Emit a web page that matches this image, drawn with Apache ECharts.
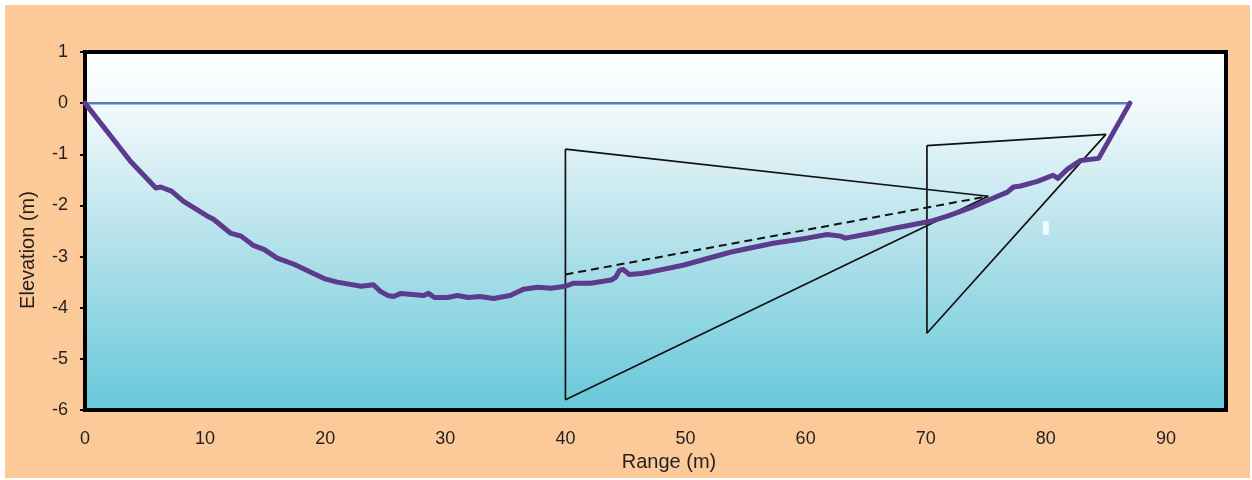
<!DOCTYPE html>
<html>
<head>
<meta charset="utf-8">
<style>
  html, body { margin: 0; padding: 0; background: #ffffff; }
  #chart { position: absolute; left: 5px; top: 5px; width: 1245px; height: 473px; }
</style>
<script src="https://cdn.jsdelivr.net/npm/echarts@6/dist/echarts.min.js"></script>
</head>
<body>
<div id="chart"></div>
<script>
// measured bottom profile (range m, elevation m)
const PROFILE = [
  [0, 0], [3.8, -1.14], [5.9, -1.66], [6.3, -1.64], [7.2, -1.72], [8.2, -1.92],
  [10.2, -2.21], [10.7, -2.27], [12.1, -2.54], [13.0, -2.6], [14.0, -2.78],
  [14.9, -2.86], [16.0, -3.03], [17.4, -3.15], [19.9, -3.43], [21.0, -3.5],
  [23.0, -3.58], [24.0, -3.55], [24.6, -3.68], [25.2, -3.76], [25.7, -3.78],
  [26.3, -3.72], [28.2, -3.76], [28.6, -3.72], [29.1, -3.8], [30.2, -3.8],
  [31.0, -3.76], [31.9, -3.8], [32.9, -3.78], [34.0, -3.82], [35.4, -3.76],
  [36.5, -3.64], [37.7, -3.6], [38.8, -3.62], [40.0, -3.58], [40.7, -3.52],
  [42.1, -3.52], [43.8, -3.46], [44.2, -3.4], [44.5, -3.27], [44.8, -3.25],
  [45.3, -3.35], [46.3, -3.33], [47.1, -3.3], [49.8, -3.17], [53.2, -2.95],
  [54.0, -2.9], [57.3, -2.74], [60.1, -2.64], [61.8, -2.57], [62.9, -2.6],
  [63.3, -2.64], [65.6, -2.54], [67.7, -2.43], [70.4, -2.31], [71.8, -2.21],
  [72.5, -2.15], [73.7, -2.05], [75.4, -1.88], [76.8, -1.74], [77.3, -1.64],
  [77.9, -1.62], [79.3, -1.53], [80.6, -1.41], [81.0, -1.47], [81.8, -1.29],
  [82.9, -1.12], [84.4, -1.08], [87.0, 0]
];
const WATER_SURFACE = [[0, 0], [87, 0]];
const BEAM_40 = [[40, -0.9], [75.2, -1.82], [40, -5.8], [40, -0.9]];
const BEAM_40_AXIS = [[40, -3.35], [75.2, -1.82]];
const BEAM_70 = [[70.1, -0.83], [85, -0.61], [70.1, -4.5], [70.1, -0.83]];
const SPECK = [[80, -2.44]];

const X_MIN = 0, X_MAX = 95, X_STEP = 10;
const Y_MIN = -6, Y_MAX = 1, Y_STEP = 1;

const FONT = "'Liberation Sans', Arial, sans-serif";
const TEXT_COLOR = '#231f20';

const chart = echarts.init(document.getElementById('chart'));

function lineSeries(data, color, width, type) {
  return {
    type: 'line',
    data,
    showSymbol: false,
    symbol: 'none',
    silent: true,
    animation: false,
    lineStyle: { color, width, type: type || 'solid' }
  };
}

chart.setOption({
  backgroundColor: '#fbca98',
  animation: false,
  grid: {
    left: 80,
    top: 47,
    width: 1141,
    height: 358,
    show: true,
    borderColor: '#000',
    borderWidth: 4,
    backgroundColor: new echarts.graphic.LinearGradient(0, 0, 0, 1, [
      { offset: 0, color: '#ffffff' },
      { offset: 0.15, color: '#f3fafc' },
      { offset: 0.5, color: '#b9e3ec' },
      { offset: 1, color: '#66c8d9' }
    ])
  },
  xAxis: {
    type: 'value',
    min: X_MIN,
    max: X_MAX,
    interval: X_STEP,
    axisLine: { show: false },
    axisTick: { show: false },
    splitLine: { show: false },
    axisLabel: {
      margin: 20,
      color: TEXT_COLOR,
      fontFamily: FONT,
      fontSize: 18,
      formatter: (v) => (v % X_STEP === 0 ? String(v) : '')
    }
  },
  yAxis: {
    type: 'value',
    min: Y_MIN,
    max: Y_MAX,
    interval: Y_STEP,
    axisLine: { show: false },
    axisTick: { show: true, inside: false, length: 5, lineStyle: { color: '#000', width: 2 } },
    splitLine: { show: false },
    axisLabel: {
      margin: 17,
      color: TEXT_COLOR,
      fontFamily: FONT,
      fontSize: 18
    }
  },
  graphic: [
    {
      type: 'text',
      x: 23,
      y: 245,
      rotation: Math.PI / 2,
      style: {
        text: 'Elevation (m)',
        fill: TEXT_COLOR,
        font: '20px ' + FONT,
        textAlign: 'center',
        textVerticalAlign: 'middle'
      }
    },
    {
      type: 'text',
      x: 664,
      y: 457,
      style: {
        text: 'Range (m)',
        fill: TEXT_COLOR,
        font: '20px ' + FONT,
        textAlign: 'center',
        textVerticalAlign: 'middle'
      }
    }
  ],
  series: [
    lineSeries(WATER_SURFACE, '#5b7dc8', 2.5),
    lineSeries(BEAM_40, '#111', 1.7),
    lineSeries(BEAM_40_AXIS, '#111', 2, [8, 5]),
    lineSeries(BEAM_70, '#111', 1.7),
    {
      ...lineSeries(PROFILE, '#5c3a8c', 5),
      lineStyle: { color: '#5c3a8c', width: 5, join: 'round', cap: 'round' }
    },
    {
      type: 'scatter',
      data: SPECK,
      symbol: 'roundRect',
      symbolSize: [6, 14],
      silent: true,
      itemStyle: { color: '#ffffff' }
    }
  ]
});
</script>
</body>
</html>
